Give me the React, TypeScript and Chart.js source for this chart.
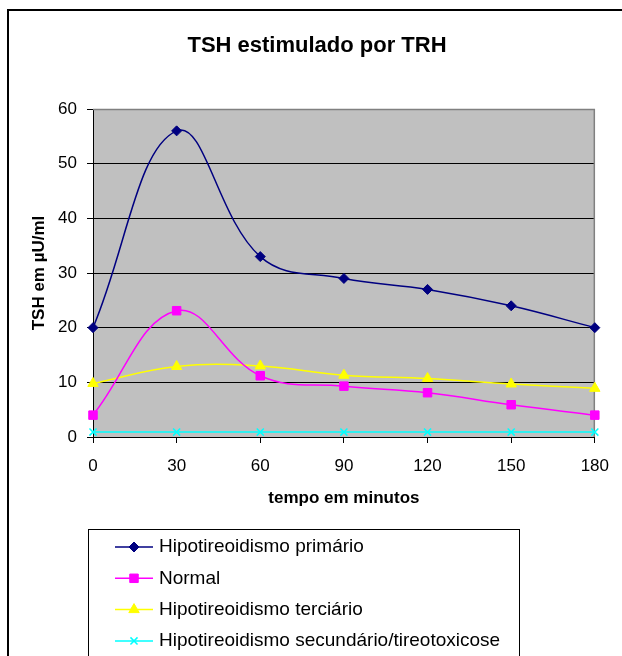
import React, { useEffect, useRef } from 'react';
import { Chart, registerables } from 'chart.js';
import { drawPoint } from 'chart.js/helpers';

Chart.register(...registerables);

const chartTitle = 'TSH estimulado por TRH';
const xTitle = 'tempo em minutos';
const yTitle = 'TSH em µU/ml';

const minutes = [0, 30, 60, 90, 120, 150, 180];
const seriesNames = [
  'Hipotireoidismo primário',
  'Normal',
  'Hipotireoidismo terciário',
  'Hipotireoidismo secundário/tireotoxicose',
];
const primario = [20, 56, 33, 29, 27, 24, 20];
const normal = [4, 23.1, 11.2, 9.3, 8.1, 5.9, 4];
const terciario = [9.8, 12.9, 13, 11.3, 10.7, 9.7, 8.9];
const secundario = [0.9, 0.9, 0.9, 0.9, 0.9, 0.9, 0.9];

const FONT = '"Liberation Sans", Arial, sans-serif';

const toPoints = (vals: number[]) => vals.map((v, i) => ({ x: minutes[i], y: v }));

const framePlugin = {
  id: 'frame',
  beforeDraw(chart: any) {
    const { ctx, chartArea: a, width, height } = chart;
    ctx.save();
    ctx.fillStyle = '#ffffff';
    ctx.fillRect(0, 0, width, height);
    ctx.fillStyle = '#C0C0C0';
    ctx.fillRect(a.left, a.top, a.right - a.left, a.bottom - a.top);
    ctx.strokeStyle = '#000000';
    ctx.lineWidth = 2;
    ctx.strokeRect(8, 10, 900, 900);
    ctx.restore();
  },
  beforeDatasetsDraw(chart: any) {
    const { ctx, chartArea: a } = chart;
    ctx.save();
    ctx.strokeStyle = '#808080';
    ctx.lineWidth = 1.5;
    ctx.beginPath();
    ctx.moveTo(a.left, a.top + 0.5);
    ctx.lineTo(a.right - 0.5, a.top + 0.5);
    ctx.lineTo(a.right - 0.5, a.bottom);
    ctx.stroke();
    ctx.restore();
  },
  afterDraw(chart: any) {
    const { ctx } = chart;
    ctx.save();
    ctx.fillStyle = '#000000';
    ctx.font = `bold 22px ${FONT}`;
    ctx.textAlign = 'center';
    ctx.textBaseline = 'alphabetic';
    ctx.fillText(chartTitle, 317, 52);
    ctx.fillStyle = '#ffffff';
    ctx.fillRect(88.5, 529.5, 431, 200);
    ctx.strokeStyle = '#000000';
    ctx.lineWidth = 1;
    ctx.strokeRect(88.5, 529.5, 431, 200);
    chart.data.datasets.forEach((ds: any, i: number) => {
      const y = 547 + i * 31.3;
      ctx.strokeStyle = ds.borderColor;
      ctx.lineWidth = ds.borderWidth;
      ctx.beginPath();
      ctx.moveTo(115, y);
      ctx.lineTo(153, y);
      ctx.stroke();
      ctx.fillStyle = ds.pointBackgroundColor;
      ctx.strokeStyle = ds.pointBorderColor;
      ctx.lineWidth = ds.pointBorderWidth;
      drawPoint(ctx, { pointStyle: ds.pointStyle, radius: ds.pointRadius, rotation: 0, borderWidth: ds.pointBorderWidth } as any, 134, y);
      ctx.fillStyle = '#000000';
      ctx.font = `19px ${FONT}`;
      ctx.textAlign = 'left';
      ctx.textBaseline = 'middle';
      ctx.fillText(ds.label, 159, y);
    });
    ctx.restore();
  },
};

export default function App() {
  const ref = useRef<HTMLCanvasElement | null>(null);
  useEffect(() => {
    if (!ref.current) return;
    const mk = (label: string, vals: number[], color: string, style: string, radius: number, bw: number) => ({
      label,
      data: toPoints(vals),
      borderColor: color,
      backgroundColor: color,
      borderWidth: 1.5,
      tension: 0.4,
      pointStyle: style,
      pointRadius: radius,
      pointHoverRadius: radius,
      pointBackgroundColor: color,
      pointBorderColor: color,
      pointBorderWidth: bw,
      clip: false as any,
    });
    const chart = new Chart(ref.current, {
      type: 'line',
      data: {
        datasets: [
          mk(seriesNames[0], primario, '#000080', 'rectRot', 5, 1),
          mk(seriesNames[1], normal, '#FF00FF', 'rect', 6, 1),
          mk(seriesNames[2], terciario, '#FFFF00', 'triangle', 6, 1),
          mk(seriesNames[3], secundario, '#00FFFF', 'crossRot', 5, 1.5),
        ] as any,
      },
      plugins: [framePlugin],
      options: {
        animation: false,
        responsive: false,
        devicePixelRatio: 1,
        layout: { padding: { left: 29, top: 109, right: 24, bottom: 147 } },
        plugins: { legend: { display: false }, title: { display: false }, tooltip: { enabled: false } },
        scales: {
          x: {
            type: 'linear',
            min: 0,
            max: 180,
            afterFit: (s: any) => { s.height = 72; },
            ticks: { stepSize: 30, color: '#000', padding: 13, font: { family: FONT, size: 17 }, maxRotation: 0 },
            grid: { drawOnChartArea: false, drawTicks: true, tickLength: 6, color: '#000', tickColor: '#000' },
            border: { color: '#000', width: 1 },
            title: { display: true, text: xTitle, color: '#000', padding: 0, font: { family: FONT, size: 17, weight: 'bold' } },
          },
          y: {
            min: 0,
            max: 60,
            afterFit: (s: any) => { s.width = 64; },
            ticks: { stepSize: 10, color: '#000', padding: 10, font: { family: FONT, size: 17 } },
            grid: {
              color: (c: any) => (c.tick && c.tick.value === 60 ? '#808080' : '#000000'),
              tickColor: '#000',
              tickLength: 6,
              lineWidth: 1,
            },
            border: { color: '#000', width: 1 },
            title: { display: true, text: yTitle, color: '#000', padding: 0, font: { family: FONT, size: 17, weight: 'bold' } },
          },
        },
      } as any,
    });
    return () => chart.destroy();
  }, []);
  return (
    <div style={{ position: 'fixed', left: 0, top: 0, width: 622, height: 656, overflow: 'hidden', background: '#fff' }}>
      <canvas ref={ref} width={622} height={656} style={{ width: 622, height: 656, display: 'block' }} />
    </div>
  );
}
